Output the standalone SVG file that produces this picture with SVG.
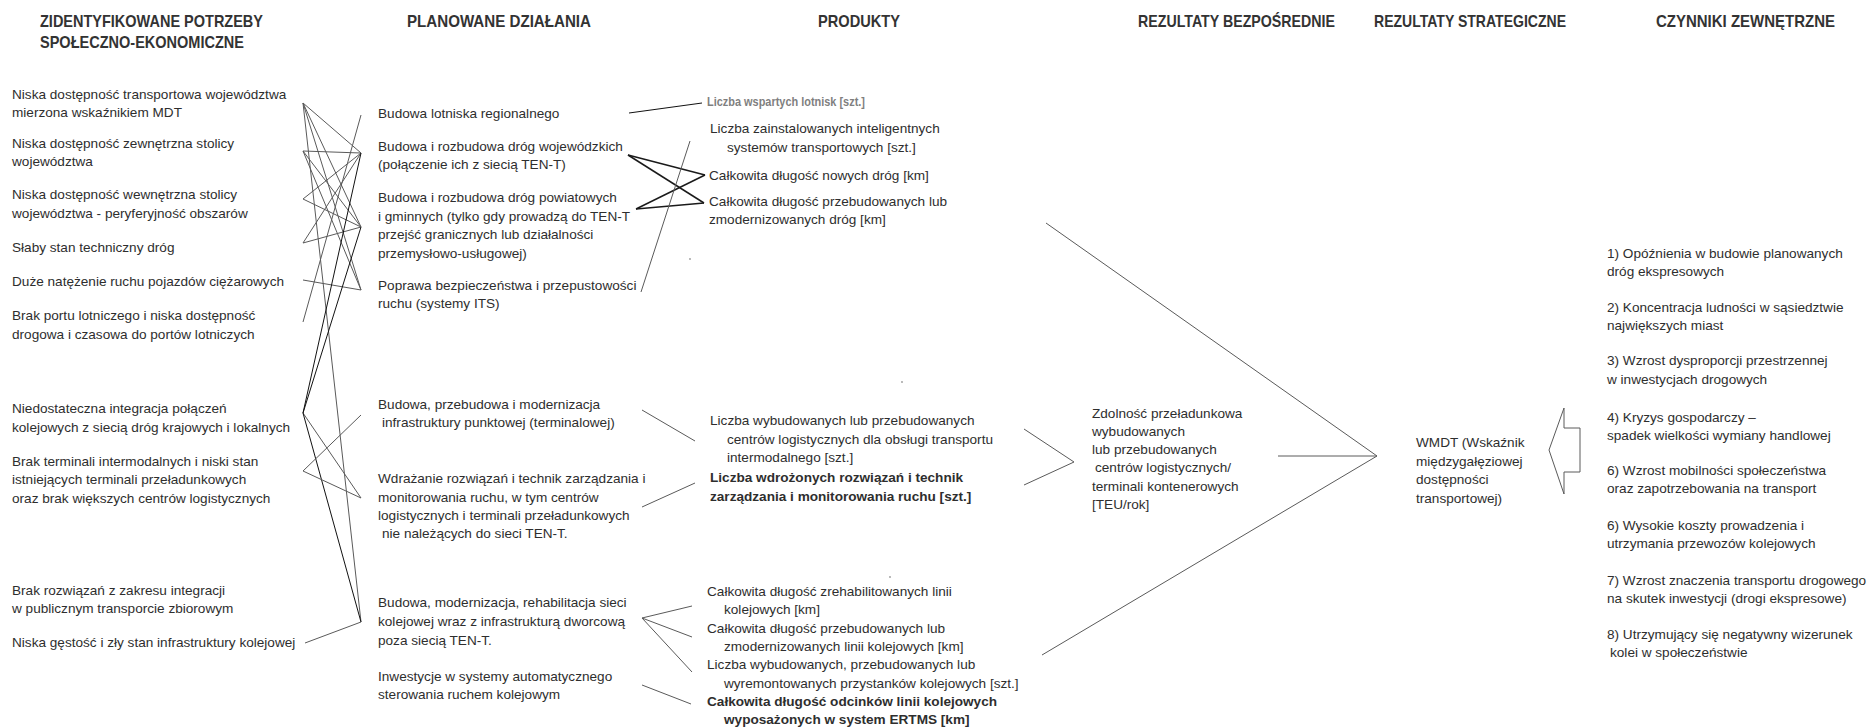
<svg xmlns="http://www.w3.org/2000/svg" width="1868" height="727" viewBox="0 0 1868 727">
<style>
text{font-family:"Liberation Sans",Arial,sans-serif;fill:#2e2e2e;font-size:13.6px}
.h{font-weight:bold;font-size:17px;fill:#333}
.b{font-weight:bold}
.g{fill:#7f7f7f;font-weight:bold;font-size:13px}
.c line,.c polyline,.c polygon{stroke:#5a5a5a;stroke-width:1;fill:none}
.c .k{stroke:#111}
.c .t{stroke:#1a1a1a;stroke-width:1.5}
</style>
<rect width="1868" height="727" fill="#fff"/>
<g id="headers">
<text class="h" x="40" y="27" textLength="223" lengthAdjust="spacingAndGlyphs">ZIDENTYFIKOWANE POTRZEBY</text>
<text class="h" x="40" y="48" textLength="204" lengthAdjust="spacingAndGlyphs">SPOŁECZNO-EKONOMICZNE</text>
<text class="h" x="407" y="27" textLength="184" lengthAdjust="spacingAndGlyphs">PLANOWANE DZIAŁANIA</text>
<text class="h" x="818" y="27" textLength="82" lengthAdjust="spacingAndGlyphs">PRODUKTY</text>
<text class="h" x="1138" y="27" textLength="197" lengthAdjust="spacingAndGlyphs">REZULTATY BEZPOŚREDNIE</text>
<text class="h" x="1374" y="27" textLength="192" lengthAdjust="spacingAndGlyphs">REZULTATY STRATEGICZNE</text>
<text class="h" x="1656" y="27" textLength="179" lengthAdjust="spacingAndGlyphs">CZYNNIKI ZEWNĘTRZNE</text>
</g>
<g id="need1"><text x="12" y="99">Niska dostępność transportowa województwa</text><text x="12" y="117">mierzona wskaźnikiem MDT</text></g>
<g id="need2"><text x="12" y="148">Niska dostępność zewnętrzna stolicy</text><text x="12" y="166">województwa</text></g>
<g id="need3"><text x="12" y="199">Niska dostępność wewnętrzna stolicy</text><text x="12" y="218">województwa - peryferyjność obszarów</text></g>
<g id="need4"><text x="12" y="252">Słaby stan techniczny dróg</text></g>
<g id="need5"><text x="12" y="286">Duże natężenie ruchu pojazdów ciężarowych</text></g>
<g id="need6"><text x="12" y="320">Brak portu lotniczego i niska dostępność</text><text x="12" y="339">drogowa i czasowa do portów lotniczych</text></g>
<g id="need7"><text x="12" y="413">Niedostateczna integracja połączeń</text><text x="12" y="432">kolejowych z siecią dróg krajowych i lokalnych</text></g>
<g id="need8"><text x="12" y="466">Brak terminali intermodalnych i niski stan</text><text x="12" y="484">istniejących terminali przeładunkowych</text><text x="12" y="503">oraz brak większych centrów logistycznych</text></g>
<g id="need9"><text x="12" y="595">Brak rozwiązań z zakresu integracji</text><text x="12" y="613">w publicznym transporcie zbiorowym</text></g>
<g id="need10"><text x="12" y="647">Niska gęstość i zły stan infrastruktury kolejowej</text></g>

<g id="act1"><text x="378" y="118">Budowa lotniska regionalnego</text></g>
<g id="act2"><text x="378" y="151">Budowa i rozbudowa dróg wojewódzkich</text><text x="378" y="169">(połączenie ich z siecią TEN-T)</text></g>
<g id="act3"><text x="378" y="202">Budowa i rozbudowa dróg powiatowych</text><text x="378" y="221">i gminnych (tylko gdy prowadzą do TEN-T</text><text x="378" y="239">przejść granicznych lub działalności</text><text x="378" y="258">przemysłowo-usługowej)</text></g>
<g id="act4"><text x="378" y="290">Poprawa bezpieczeństwa i przepustowości</text><text x="378" y="308">ruchu (systemy ITS)</text></g>
<g id="act5"><text x="378" y="409">Budowa, przebudowa i modernizacja</text><text x="382" y="427">infrastruktury punktowej (terminalowej)</text></g>
<g id="act6"><text x="378" y="483">Wdrażanie rozwiązań i technik zarządzania i</text><text x="378" y="502">monitorowania ruchu, w tym centrów</text><text x="378" y="520">logistycznych i terminali przeładunkowych</text><text x="382" y="538">nie należących do sieci TEN-T.</text></g>
<g id="act7"><text x="378" y="607">Budowa, modernizacja, rehabilitacja sieci</text><text x="378" y="626">kolejowej wraz z infrastrukturą dworcową</text><text x="378" y="645">poza siecią TEN-T.</text></g>
<g id="act8"><text x="378" y="681">Inwestycje w systemy automatycznego</text><text x="378" y="699">sterowania ruchem kolejowym</text></g>

<g id="prod1"><text class="g" x="707" y="106" textLength="158" lengthAdjust="spacingAndGlyphs">Liczba wspartych lotnisk [szt.]</text></g>
<g id="prod2"><text x="710" y="133">Liczba zainstalowanych inteligentnych</text><text x="727" y="152">systemów transportowych [szt.]</text></g>
<g id="prod3"><text x="709" y="180">Całkowita długość nowych dróg [km]</text></g>
<g id="prod4"><text x="709" y="206">Całkowita długość przebudowanych lub</text><text x="709" y="224">zmodernizowanych dróg [km]</text></g>
<g id="prod5"><text x="710" y="425">Liczba wybudowanych lub przebudowanych</text><text x="727" y="444">centrów logistycznych dla obsługi transportu</text><text x="727" y="462">intermodalnego [szt.]</text></g>
<g id="prod6"><text class="b" x="710" y="482">Liczba wdrożonych rozwiązań i technik</text><text class="b" x="710" y="501">zarządzania i monitorowania ruchu [szt.]</text></g>
<g id="prod7"><text x="707" y="596">Całkowita długość zrehabilitowanych linii</text><text x="724" y="614">kolejowych [km]</text></g>
<g id="prod8"><text x="707" y="633">Całkowita długość przebudowanych lub</text><text x="724" y="651">zmodernizowanych linii kolejowych [km]</text></g>
<g id="prod9"><text x="707" y="669">Liczba wybudowanych, przebudowanych lub</text><text x="724" y="688">wyremontowanych przystanków kolejowych [szt.]</text></g>
<g id="prod10"><text class="b" x="707" y="706">Całkowita długość odcinków linii kolejowych</text><text class="b" x="724" y="724">wyposażonych w system ERTMS [km]</text></g>

<g id="result1"><text x="1092" y="418">Zdolność przeładunkowa</text><text x="1092" y="436">wybudowanych</text><text x="1092" y="454">lub przebudowanych</text><text x="1095" y="472">centrów logistycznych/</text><text x="1092" y="491">terminali kontenerowych</text><text x="1092" y="509">[TEU/rok]</text></g>
<g id="strategic1"><text x="1416" y="447">WMDT (Wskaźnik</text><text x="1416" y="466">międzygałęziowej</text><text x="1416" y="484">dostępności</text><text x="1416" y="503">transportowej)</text></g>

<g id="ext1"><text x="1607" y="258">1) Opóźnienia w budowie planowanych</text><text x="1607" y="276">dróg ekspresowych</text></g>
<g id="ext2"><text x="1607" y="312">2) Koncentracja ludności w sąsiedztwie</text><text x="1607" y="330">największych miast</text></g>
<g id="ext3"><text x="1607" y="365">3) Wzrost dysproporcji przestrzennej</text><text x="1607" y="384">w inwestycjach drogowych</text></g>
<g id="ext4"><text x="1607" y="422">4) Kryzys gospodarczy –</text><text x="1607" y="440">spadek wielkości wymiany handlowej</text></g>
<g id="ext5"><text x="1607" y="475">6) Wzrost mobilności społeczeństwa</text><text x="1607" y="493">oraz zapotrzebowania na transport</text></g>
<g id="ext6"><text x="1607" y="530">6) Wysokie koszty prowadzenia i</text><text x="1607" y="548">utrzymania przewozów kolejowych</text></g>
<g id="ext7"><text x="1607" y="585">7) Wzrost znaczenia transportu drogowego</text><text x="1607" y="603">na skutek inwestycji (drogi ekspresowe)</text></g>
<g id="ext8"><text x="1607" y="639">8) Utrzymujący się negatywny wizerunek</text><text x="1610" y="657">kolei w społeczeństwie</text></g>

<g id="connectors" class="c">
<line x1="303" y1="103" x2="361" y2="153"/>
<line x1="303" y1="103" x2="361" y2="227"/>
<line x1="303" y1="103" x2="361" y2="290"/>
<line x1="303" y1="103" x2="361" y2="622"/>
<line x1="303" y1="151" x2="361" y2="153"/>
<line x1="303" y1="151" x2="361" y2="227"/>
<line x1="303" y1="151" x2="361" y2="290"/>
<line x1="303" y1="199" x2="361" y2="153"/>
<line x1="303" y1="199" x2="361" y2="227"/>
<line x1="303" y1="243" x2="361" y2="153"/>
<line x1="303" y1="243" x2="361" y2="227"/>
<line x1="303" y1="280" x2="361" y2="290"/>
<line x1="303" y1="322" x2="361" y2="115"/>
<line class="k" x1="303" y1="413" x2="361" y2="153"/>
<line class="k" x1="303" y1="413" x2="361" y2="227"/>
<line x1="303" y1="413" x2="361" y2="498"/>
<line class="k" x1="303" y1="413" x2="361" y2="622"/>
<line x1="303" y1="471" x2="361" y2="415"/>
<line x1="303" y1="471" x2="361" y2="498"/>
<line x1="305" y1="643" x2="361" y2="622"/>

<line class="k" x1="629" y1="113" x2="702" y2="103"/>
<line class="t" x1="628" y1="155" x2="705" y2="175"/>
<line class="t" x1="628" y1="155" x2="704" y2="203"/>
<line class="t" x1="636" y1="209" x2="705" y2="175"/>
<line class="t" x1="636" y1="209" x2="704" y2="203"/>
<line x1="641" y1="292" x2="690" y2="141"/>
<line x1="642" y1="410" x2="695" y2="441"/>
<line x1="642" y1="507" x2="695" y2="483"/>
<line x1="642" y1="618" x2="692" y2="606"/>
<line x1="642" y1="618" x2="692" y2="637"/>
<line x1="642" y1="618" x2="692" y2="672"/>
<line x1="642" y1="685" x2="691" y2="704"/>

<polyline points="1024,429 1074,462 1024,485"/>
<polyline points="1046,223 1377,456 1042,655"/>
<line x1="1278" y1="456" x2="1377" y2="456"/>
<polygon points="1549,450 1564,408 1564,428 1580,428 1580,472 1564,472 1564,494"/>
</g>
<g id="specks" fill="#9a9a9a"><circle cx="690" cy="259" r="0.9"/><circle cx="902" cy="382" r="0.9"/><circle cx="890" cy="577" r="0.9"/></g>
</svg>
